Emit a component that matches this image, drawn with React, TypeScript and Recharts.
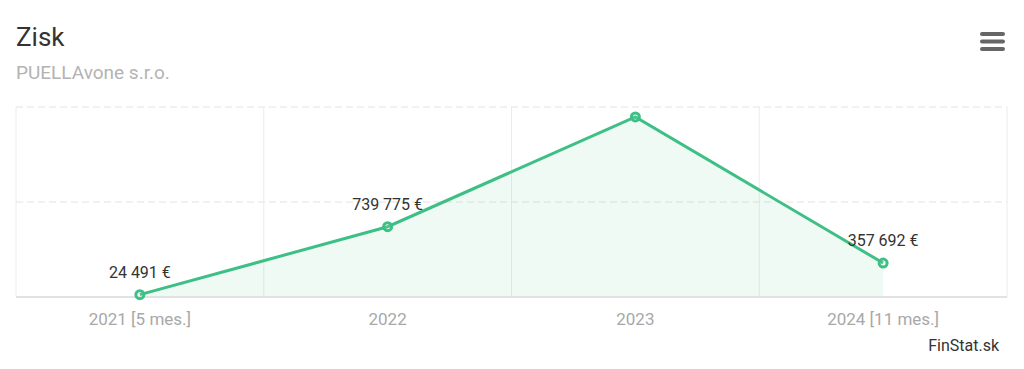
import { ComposedChart, Area, XAxis, YAxis, CartesianGrid, LabelList } from "recharts";

const years = ["2021 [5 mes.]", "2022", "2023", "2024 [11 mes.]"];
const profit = [24491, 739775, 1895000, 357692];
const showLabel = [true, true, false, true];
const yTicks = [0, 1000000, 2000000];

const GREEN = "#3dbf85";
const FONT = "Roboto, 'Noto Sans', sans-serif";

const data = years.map((year, i) => ({ year, profit: profit[i] }));

const fmt = (v: number) => Math.round(v).toLocaleString("en-US").replace(/,/g, " ") + " €";

// vertical grid lines sit on the band edges (band scale, no padding)
const bandEdges = ({ offset }: any) => {
  if (!offset) return [];
  const step = offset.width / years.length;
  return [...years.map((_, i) => offset.left + i * step), offset.left + offset.width];
};

function ValueLabel(props: any) {
  const { x, y, value, index } = props;
  if (!showLabel[index]) return null;
  return (
    <text x={x} y={y - 17} textAnchor="middle" fill="#333" fontSize={16} fontFamily={FONT}>
      {fmt(value)}
    </text>
  );
}

export default function App() {
  return (
    <div style={{ position: "absolute", left: 0, top: 0, width: 1024, height: 369, background: "#fff", fontFamily: FONT }}>
      <div style={{ position: "absolute", left: 16, top: 24, fontSize: 26, lineHeight: "26px", color: "#333" }}>Zisk</div>
      <div style={{ position: "absolute", left: 16, top: 63, fontSize: 19, lineHeight: "19px", color: "#b3b3b3" }}>
        PUELLAvone s.r.o.
      </div>
      <svg style={{ position: "absolute", left: 978, top: 30 }} width={28} height={22}>
        {[4, 11.5, 19].map((cy) => (
          <line key={cy} x1={4} x2={25} y1={cy} y2={cy} stroke="#666" strokeWidth={4} strokeLinecap="round" />
        ))}
      </svg>
      <ComposedChart width={1024} height={369} data={data} margin={{ top: 107, right: 17, bottom: 42, left: 16 }}>
        <CartesianGrid horizontal={false} verticalCoordinatesGenerator={bandEdges} stroke="#ececec" />
        <CartesianGrid vertical={false} stroke="#e3e3e3" strokeDasharray="7 4" />
        <XAxis
          dataKey="year"
          scale="band"
          height={30}
          tickLine={false}
          tickSize={0}
          tickMargin={16}
          axisLine={{ stroke: "#e2e2e2", strokeWidth: 2 }}
          tick={{ fill: "#a8a8a8", fontSize: 17, fontFamily: FONT }}
          interval={0}
        />
        <YAxis hide domain={[0, 2000000]} ticks={yTicks} />
        <Area
          dataKey="profit"
          type="linear"
          stroke={GREEN}
          strokeWidth={3}
          fill={GREEN}
          fillOpacity={0.08}
          dot={{ r: 4, fill: "#fff", stroke: GREEN, strokeWidth: 3 }}
          activeDot={false}
          isAnimationActive={false}
        >
          <LabelList dataKey="profit" content={<ValueLabel />} />
        </Area>
      </ComposedChart>
      <div style={{ position: "absolute", right: 25, top: 338, fontSize: 16, lineHeight: "16px", color: "#333" }}>FinStat.sk</div>
    </div>
  );
}
